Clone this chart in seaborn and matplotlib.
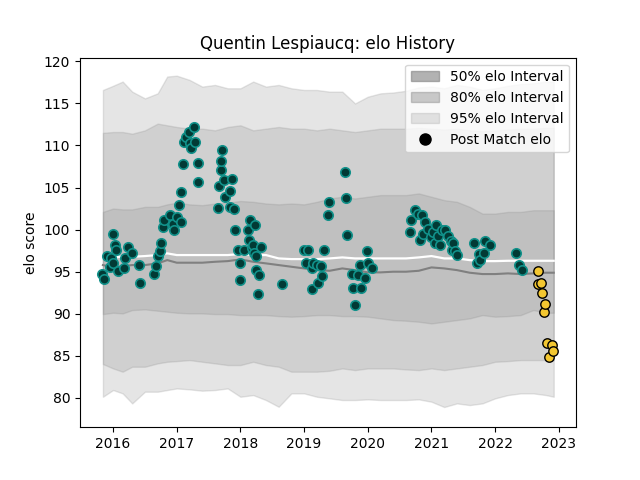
import matplotlib
matplotlib.use("Agg")
import matplotlib.pyplot as plt
from matplotlib.patches import Patch
from matplotlib.lines import Line2D
import numpy as np
import pandas as pd
import seaborn as sns

# time grid (decimal years) for the elo intervals
grid = [2015.84, 2016.0, 2016.15, 2016.3, 2016.5, 2016.7, 2016.85, 2017.0, 2017.2, 2017.4,
        2017.6, 2017.8, 2018.0, 2018.2, 2018.4, 2018.6, 2018.8, 2019.0, 2019.2, 2019.4,
        2019.6, 2019.8, 2020.0, 2020.2, 2020.4, 2020.6, 2020.8, 2021.0, 2021.2, 2021.4,
        2021.6, 2021.8, 2022.0, 2022.2, 2022.4, 2022.6, 2022.8, 2022.92]
up95 = [116.6, 117.1, 117.6, 116.4, 115.6, 116.2, 118.2, 118.3, 117.8, 117.0,
        117.2, 116.8, 116.8, 117.6, 117.0, 117.2, 116.8, 116.6, 116.6, 116.4,
        116.4, 115.0, 115.8, 116.2, 116.3, 116.5, 116.9, 117.0, 116.8, 117.2,
        117.0, 116.6, 116.8, 117.1, 117.3, 117.4, 117.6, 117.6]
up80 = [111.5, 111.6, 111.6, 111.4, 111.8, 112.6, 112.4, 112.2, 112.0, 112.0,
        111.8, 112.2, 112.4, 111.8, 112.0, 112.2, 112.0, 112.0, 111.8, 112.0,
        111.8, 111.6, 111.8, 112.0, 112.0, 112.0, 112.1, 112.0, 111.9, 112.0,
        111.8, 111.7, 111.8, 111.9, 112.0, 112.0, 112.1, 112.1]
up50 = [102.1, 102.5, 102.4, 102.4, 102.7, 102.7, 103.0, 103.2, 103.0, 102.9,
        103.1, 103.2, 103.4, 103.3, 103.1, 103.0, 103.1, 103.0, 103.3, 103.7,
        103.9, 103.7, 103.9, 104.1, 104.1, 104.1, 104.3, 103.9, 103.5, 103.3,
        102.7, 101.9, 101.9, 102.1, 102.1, 102.3, 102.3, 102.3]
mean_elo = [96.77, 96.69, 96.77, 96.77, 96.85, 96.97, 97.17, 96.97, 96.97, 96.97,
            96.97, 96.97, 97.09, 96.97, 96.97, 96.57, 96.49, 96.49, 96.49, 96.57,
            96.69, 96.57, 96.57, 96.57, 96.57, 96.57, 96.69, 96.85, 96.57, 96.57,
            96.37, 96.25, 96.25, 96.29, 96.29, 96.29, 96.29, 96.29]
median_elo = [95.78, 95.50, 95.66, 95.78, 95.78, 95.98, 96.37, 96.06, 96.06, 96.06,
              96.17, 96.25, 96.45, 96.17, 95.98, 95.78, 95.58, 95.38, 95.18, 95.10,
              95.38, 95.18, 94.91, 94.91, 94.99, 94.99, 95.10, 95.50, 95.38, 95.18,
              94.87, 94.71, 94.71, 94.79, 94.71, 94.79, 94.87, 94.87]
lo50 = [89.95, 90.11, 90.03, 90.43, 90.51, 90.35, 90.23, 90.11, 90.03, 90.03,
        89.95, 89.95, 89.83, 89.83, 89.83, 89.71, 89.64, 89.71, 89.83, 89.83,
        89.71, 89.71, 89.64, 89.44, 89.24, 89.16, 89.04, 88.84, 89.04, 89.24,
        89.44, 89.83, 89.64, 89.71, 89.83, 90.43, 90.11, 90.11]
lo80 = [84.01, 83.49, 83.10, 83.69, 83.69, 84.09, 84.28, 84.36, 84.48, 84.28,
        84.09, 83.89, 83.89, 84.28, 83.89, 83.69, 83.10, 83.10, 83.10, 83.21,
        83.49, 83.29, 83.49, 83.49, 83.49, 83.37, 83.29, 83.49, 83.29, 83.49,
        83.69, 83.89, 84.28, 84.36, 84.48, 84.48, 84.48, 84.48]
lo95 = [80.12, 80.92, 80.52, 79.33, 80.72, 80.72, 80.92, 81.11, 81.00, 80.84,
        80.92, 81.11, 80.12, 80.32, 79.73, 78.93, 80.52, 80.52, 80.12, 79.93,
        79.73, 79.73, 79.81, 79.73, 79.73, 79.73, 79.81, 79.53, 78.90, 79.33,
        79.13, 79.33, 79.93, 80.32, 80.52, 80.52, 80.32, 80.12]

# post match elo, older matches
past_dates = [2015.83, 2015.85, 2015.90, 2015.95, 2015.97, 2016.00, 2016.00, 2016.03, 2016.05, 2016.08,
              2016.17, 2016.18, 2016.24, 2016.29, 2016.40, 2016.42, 2016.64, 2016.68, 2016.70, 2016.73,
              2016.75, 2016.79, 2016.80, 2016.89, 2016.94, 2016.96, 2017.00, 2017.03, 2017.06, 2017.06,
              2017.10, 2017.12, 2017.15, 2017.19, 2017.21, 2017.23, 2017.27, 2017.28, 2017.33, 2017.34,
              2017.65, 2017.66, 2017.69, 2017.70, 2017.71, 2017.74, 2017.76, 2017.83, 2017.83, 2017.87,
              2017.90, 2017.91, 2017.96, 2017.99, 2018.00, 2018.06, 2018.12, 2018.13, 2018.15, 2018.18,
              2018.20, 2018.22, 2018.23, 2018.24, 2018.25, 2018.28, 2018.29, 2018.33, 2018.65, 2019.00,
              2019.03, 2019.06, 2019.12, 2019.13, 2019.14, 2019.20, 2019.22, 2019.26, 2019.28, 2019.31,
              2019.37, 2019.39, 2019.64, 2019.66, 2019.68, 2019.75, 2019.77, 2019.80, 2019.85, 2019.88,
              2019.90, 2019.96, 2019.98, 2020.01, 2020.06, 2020.66, 2020.68, 2020.74, 2020.79, 2020.82,
              2020.85, 2020.87, 2020.90, 2020.95, 2020.99, 2021.03, 2021.06, 2021.07, 2021.11, 2021.13,
              2021.16, 2021.22, 2021.26, 2021.30, 2021.32, 2021.34, 2021.37, 2021.40, 2021.67, 2021.71,
              2021.74, 2021.76, 2021.82, 2021.84, 2021.92, 2022.32, 2022.37, 2022.42]
past_elo = [94.7, 94.1, 96.8, 95.6, 96.6, 99.5, 96.0, 98.2, 97.6, 95.1,
            95.4, 96.6, 97.9, 97.2, 95.8, 93.6, 94.7, 95.7, 96.8, 97.4,
            98.4, 100.3, 101.1, 101.7, 100.7, 99.9, 101.5, 102.9, 100.9, 104.5,
            107.8, 110.4, 111.0, 111.6, 110.3, 109.7, 112.2, 110.4, 107.9, 105.6,
            102.6, 105.2, 107.1, 108.1, 109.5, 105.9, 103.9, 104.6, 102.7, 106.0,
            102.4, 99.9, 97.6, 96.0, 94.0, 97.6, 99.9, 98.8, 101.1, 97.8,
            98.2, 97.2, 100.5, 96.8, 95.2, 92.3, 94.6, 97.9, 93.5, 97.6,
            96.0, 97.6, 95.4, 92.9, 96.0, 95.8, 93.6, 95.7, 94.5, 97.6,
            101.7, 103.3, 106.9, 103.8, 99.3, 94.7, 93.0, 91.0, 94.6, 95.8,
            93.0, 94.3, 97.5, 96.0, 95.4, 99.7, 101.1, 102.3, 101.9, 98.8,
            101.7, 99.5, 100.9, 100.1, 99.1, 99.7, 98.4, 100.5, 99.2, 98.2,
            99.9, 99.9, 99.2, 98.7, 97.6, 98.4, 97.4, 97.0, 98.4, 96.0,
            97.1, 96.4, 97.2, 98.7, 98.2, 97.2, 95.8, 95.2]

# most recent matches
recent_dates = [2022.67, 2022.68, 2022.72, 2022.74, 2022.76, 2022.78, 2022.81, 2022.84, 2022.90, 2022.91]
recent_elo = [93.5, 95.1, 93.7, 92.5, 90.2, 91.2, 86.5, 84.9, 86.3, 85.6]

fig, ax = plt.subplots(figsize=(6.4, 4.8), dpi=100)

#intervals, drawn on top of each other
ax.fill_between(grid, lo95, up95, color='gray', alpha=0.2)
ax.fill_between(grid, lo80, up80, color='gray', alpha=0.2)
ax.fill_between(grid, lo50, up50, color='gray', alpha=0.2)

sns.lineplot(x=grid, y=mean_elo, color='white', linewidth=1.6, ax=ax)
sns.lineplot(x=grid, y=median_elo, color='gray', linewidth=1.5, ax=ax)

sns.scatterplot(x=past_dates, y=past_elo, color='#023a35', edgecolor='#11918a',
                linewidth=1.2, s=46, ax=ax, zorder=3)
sns.scatterplot(x=recent_dates, y=recent_elo, color='#f3c731', edgecolor='black',
                linewidth=1.0, s=46, ax=ax, zorder=4)

ax.set_xlim(2015.48, 2023.27)
ax.set_ylim(76.5, 120.45)
ax.set_xticks(range(2016, 2024))
ax.set_title('Quentin Lespiaucq: elo History')
ax.set_ylabel('elo score')

handles = [Patch(color='gray', alpha=0.6, label='50% elo Interval'),
           Patch(color='gray', alpha=0.4, label='80% elo Interval'),
           Patch(color='gray', alpha=0.2, label='95% elo Interval'),
           Line2D([], [], marker='o', color='black', linestyle='', markersize=8,
                  label='Post Match elo')]
ax.legend(handles=handles, loc='upper right')

plt.savefig('out.png')
